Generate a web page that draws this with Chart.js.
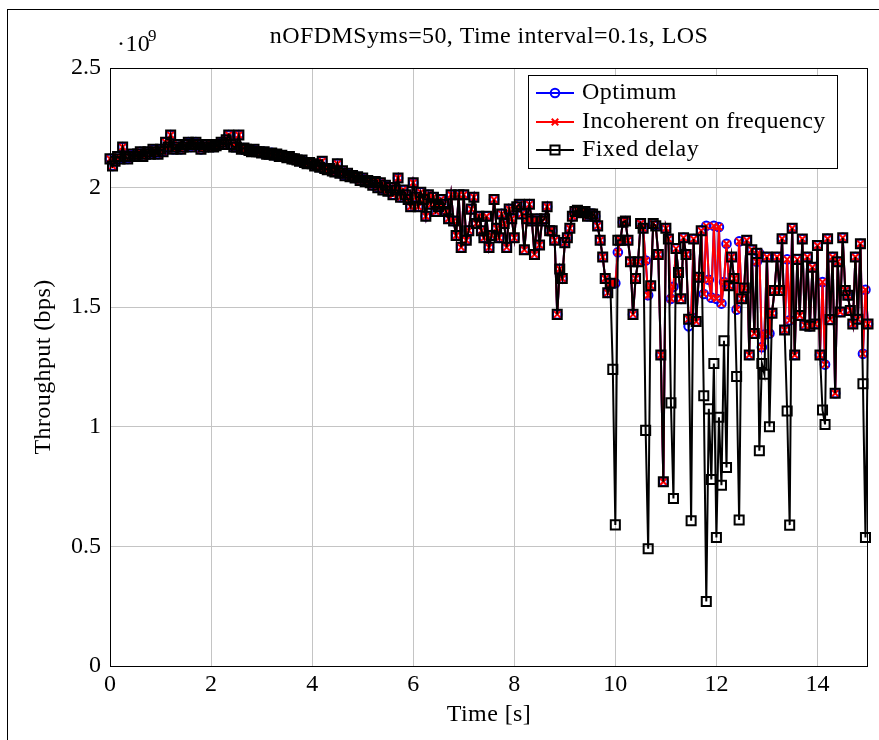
<!DOCTYPE html>
<html>
<head>
<meta charset="utf-8">
<title>Throughput</title>
<script src="https://cdn.jsdelivr.net/npm/chart.js@4.4.0/dist/chart.umd.min.js"></script>
<style>
html, body { margin: 0; padding: 0; background: #fff; }
#wrap { position: relative; width: 879px; height: 740px; overflow: hidden; }
#wrap canvas { position: absolute; left: 0; top: 0; }
#frame { position: absolute; left: 7px; top: 9px; width: 900px; height: 800px; border-left: 1px solid #000; border-top: 1px solid #000; pointer-events: none; }
</style>
</head>
<body>
<div id="wrap">
  <canvas id="throughputChart" width="879" height="740"></canvas>
  <div id="frame"></div>
</div>
<script>
const serif = '"Liberation Serif", "Times New Roman", serif';

// time axis (s)
const times = [
  0,0.05,0.1,0.15,0.2,0.25,0.3,0.35,0.4,0.45,0.5,0.55,0.6,0.65,0.7,0.75,0.8,0.85,0.9,0.95,
  1,1.05,1.1,1.15,1.2,1.25,1.3,1.35,1.4,1.45,1.5,1.55,1.6,1.65,1.7,1.75,1.8,1.85,1.9,1.95,
  2,2.05,2.1,2.15,2.2,2.25,2.3,2.35,2.4,2.45,2.5,2.55,2.6,2.65,2.7,2.75,2.8,2.85,2.9,2.95,
  3,3.05,3.1,3.15,3.2,3.25,3.3,3.35,3.4,3.45,3.5,3.55,3.6,3.65,3.7,3.75,3.8,3.85,3.9,3.95,
  4,4.05,4.1,4.15,4.2,4.25,4.3,4.35,4.4,4.45,4.5,4.55,4.6,4.65,4.7,4.75,4.8,4.85,4.9,4.95,
  5,5.05,5.1,5.15,5.2,5.25,5.3,5.35,5.4,5.45,5.5,5.55,5.6,5.65,5.7,5.75,5.8,5.85,5.9,5.95,
  6,6.05,6.1,6.15,6.2,6.25,6.3,6.35,6.4,6.45,6.5,6.55,6.6,6.65,6.7,6.75,6.8,6.85,6.9,6.95,
  7,7.05,7.1,7.15,7.2,7.25,7.3,7.35,7.4,7.45,7.5,7.55,7.6,7.65,7.7,7.75,7.8,7.85,7.9,7.95,
  8,8.05,8.1,8.15,8.2,8.25,8.3,8.35,8.4,8.45,8.5,8.55,8.6,8.65,8.7,8.75,8.8,8.85,8.9,8.95,
  9,9.05,9.1,9.15,9.2,9.25,9.3,9.35,9.4,9.45,9.5,9.55,9.6,9.65,9.7,9.75,9.8,9.85,9.9,9.95,
  10,10.05,10.1,10.15,10.2,10.25,10.3,10.35,10.4,10.45,10.5,10.55,10.6,10.65,10.7,10.75,10.8,10.85,10.9,10.95,
  11,11.05,11.1,11.15,11.2,11.25,11.3,11.35,11.4,11.45,11.5,11.55,11.6,11.65,11.7,11.75,11.8,11.85,11.9,11.95,
  12,12.05,12.1,12.15,12.2,12.25,12.3,12.35,12.4,12.45,12.5,12.55,12.6,12.65,12.7,12.75,12.8,12.85,12.9,12.95,
  13,13.05,13.1,13.15,13.2,13.25,13.3,13.35,13.4,13.45,13.5,13.55,13.6,13.65,13.7,13.75,13.8,13.85,13.9,13.95,
  14,14.05,14.1,14.15,14.2,14.25,14.3,14.35,14.4,14.45,14.5,14.55,14.6,14.65,14.7,14.75,14.8,14.85,14.9,14.95,
  15
];

// throughput in units of 10^9 bps
const optimum = [
  2.12,2.09,2.11,2.13,2.12,2.17,2.13,2.12,2.13,2.14,2.13,2.14,2.15,2.13,2.14,2.15,2.14,2.16,2.15,2.14,
  2.16,2.15,2.19,2.17,2.22,2.16,2.17,2.18,2.16,2.17,2.18,2.19,2.17,2.18,2.19,2.18,2.16,2.17,2.18,2.17,
  2.18,2.17,2.175,2.18,2.19,2.18,2.20,2.22,2.18,2.17,2.17,2.22,2.16,2.165,2.16,2.155,2.15,2.16,2.15,2.15,
  2.145,2.15,2.14,2.14,2.145,2.135,2.14,2.13,2.135,2.13,2.125,2.13,2.12,2.12,2.115,2.11,2.115,2.105,2.10,2.105,
  2.10,2.09,2.095,2.085,2.11,2.08,2.075,2.08,2.07,2.065,2.10,2.06,2.07,2.05,2.06,2.045,2.05,2.04,2.045,2.03,
  2.04,2.025,2.03,2.02,2.01,2.025,2.00,2.02,1.99,2.01,1.985,2.00,1.97,1.99,2.04,1.96,1.99,1.97,1.95,1.92,
  2.02,1.96,1.92,1.98,1.95,1.88,1.97,1.93,1.96,1.90,1.92,1.95,1.93,1.90,1.87,1.97,1.86,1.80,1.97,1.75,
  1.97,1.78,1.82,1.91,1.96,1.85,1.88,1.82,1.79,1.88,1.75,1.80,1.95,1.83,1.79,1.89,1.85,1.75,1.91,1.87,
  1.79,1.92,1.93,1.89,1.74,1.87,1.93,1.86,1.72,1.87,1.76,1.86,1.87,1.92,1.82,1.82,1.78,1.47,1.66,1.62,
  1.77,1.79,1.83,1.88,1.90,1.905,1.90,1.895,1.90,1.88,1.89,1.89,1.88,1.84,1.78,1.71,1.62,1.56,1.60,1.60,
  1.60,1.73,1.78,1.855,1.86,1.78,1.69,1.47,1.62,1.69,1.85,1.83,1.695,1.55,1.59,1.85,1.84,1.72,1.30,0.77,
  1.83,1.785,1.535,1.585,1.745,1.645,1.535,1.79,1.72,1.42,1.46,1.785,1.44,1.625,1.82,1.555,1.84,1.615,1.54,1.84,
  1.535,1.835,1.515,1.605,1.765,1.59,1.71,1.62,1.49,1.775,1.535,1.58,1.78,1.30,1.74,1.39,1.69,1.725,1.333,1.386,
  1.71,1.39,1.475,1.57,1.71,1.57,1.786,1.405,1.70,1.445,1.83,1.30,1.70,1.465,1.785,1.425,1.71,1.42,1.667,1.43,
  1.758,1.30,1.605,1.26,1.786,1.448,1.71,1.14,1.69,1.48,1.79,1.57,1.55,1.486,1.43,1.71,1.45,1.765,1.305,1.573,
  1.43
];

const incoherent = [
  2.12,2.09,2.11,2.13,2.12,2.17,2.13,2.12,2.13,2.14,2.13,2.14,2.15,2.13,2.14,2.15,2.14,2.16,2.15,2.14,
  2.16,2.15,2.19,2.17,2.22,2.16,2.17,2.18,2.16,2.17,2.18,2.19,2.17,2.18,2.19,2.18,2.16,2.17,2.18,2.17,
  2.18,2.17,2.175,2.18,2.19,2.18,2.20,2.22,2.18,2.17,2.17,2.22,2.16,2.165,2.16,2.155,2.15,2.16,2.15,2.15,
  2.145,2.15,2.14,2.14,2.145,2.135,2.14,2.13,2.135,2.13,2.125,2.13,2.12,2.12,2.115,2.11,2.115,2.105,2.10,2.105,
  2.10,2.09,2.095,2.085,2.11,2.08,2.075,2.08,2.07,2.065,2.10,2.06,2.07,2.05,2.06,2.045,2.05,2.04,2.045,2.03,
  2.04,2.025,2.03,2.02,2.01,2.025,2.00,2.02,1.99,2.01,1.985,2.00,1.97,1.99,2.04,1.96,1.99,1.97,1.95,1.92,
  2.02,1.96,1.92,1.98,1.95,1.88,1.97,1.93,1.96,1.90,1.92,1.95,1.93,1.90,1.87,1.97,1.86,1.80,1.97,1.75,
  1.97,1.78,1.82,1.91,1.96,1.85,1.88,1.82,1.79,1.88,1.75,1.80,1.95,1.83,1.79,1.89,1.85,1.75,1.91,1.87,
  1.79,1.92,1.93,1.89,1.74,1.87,1.93,1.86,1.72,1.87,1.76,1.86,1.87,1.92,1.82,1.82,1.78,1.47,1.66,1.62,
  1.77,1.79,1.83,1.88,1.90,1.905,1.90,1.895,1.90,1.88,1.89,1.89,1.88,1.84,1.78,1.71,1.62,1.56,1.60,1.60,
  1.60,1.73,1.78,1.855,1.86,1.78,1.69,1.47,1.62,1.69,1.85,1.83,1.695,1.55,1.59,1.85,1.84,1.72,1.30,0.77,
  1.83,1.785,1.535,1.585,1.745,1.645,1.535,1.79,1.72,1.45,1.46,1.785,1.44,1.625,1.82,1.555,1.84,1.615,1.54,1.84,
  1.535,1.835,1.515,1.605,1.765,1.59,1.71,1.62,1.49,1.775,1.535,1.58,1.78,1.30,1.74,1.39,1.69,1.725,1.333,1.386,
  1.71,1.39,1.475,1.57,1.71,1.57,1.786,1.405,1.70,1.445,1.83,1.30,1.70,1.465,1.785,1.425,1.71,1.42,1.667,1.43,
  1.758,1.30,1.605,1.26,1.786,1.448,1.71,1.14,1.69,1.48,1.79,1.57,1.55,1.486,1.43,1.71,1.45,1.765,1.305,1.573,
  1.43
];

const fixedDelay = [
  2.12,2.09,2.11,2.13,2.12,2.17,2.13,2.12,2.13,2.14,2.13,2.14,2.15,2.13,2.14,2.15,2.14,2.16,2.15,2.14,
  2.16,2.15,2.19,2.17,2.22,2.16,2.17,2.18,2.16,2.17,2.18,2.19,2.17,2.18,2.19,2.18,2.16,2.17,2.18,2.17,
  2.18,2.17,2.175,2.18,2.19,2.18,2.20,2.22,2.18,2.17,2.17,2.22,2.16,2.165,2.16,2.155,2.15,2.16,2.15,2.15,
  2.145,2.15,2.14,2.14,2.145,2.135,2.14,2.13,2.135,2.13,2.125,2.13,2.12,2.12,2.115,2.11,2.115,2.105,2.10,2.105,
  2.10,2.09,2.095,2.085,2.11,2.08,2.075,2.08,2.07,2.065,2.10,2.06,2.07,2.05,2.06,2.045,2.05,2.04,2.045,2.03,
  2.04,2.025,2.03,2.02,2.01,2.025,2.00,2.02,1.99,2.01,1.985,2.00,1.97,1.99,2.04,1.96,1.99,1.97,1.95,1.92,
  2.02,1.96,1.92,1.98,1.95,1.88,1.97,1.93,1.96,1.90,1.92,1.95,1.93,1.90,1.87,1.97,1.86,1.80,1.97,1.75,
  1.97,1.78,1.82,1.91,1.96,1.85,1.88,1.82,1.79,1.88,1.75,1.80,1.95,1.83,1.79,1.89,1.85,1.75,1.91,1.87,
  1.79,1.92,1.93,1.89,1.74,1.87,1.93,1.86,1.72,1.87,1.76,1.86,1.87,1.92,1.82,1.82,1.78,1.47,1.66,1.62,
  1.77,1.79,1.83,1.88,1.90,1.905,1.90,1.895,1.90,1.88,1.89,1.89,1.88,1.84,1.78,1.71,1.62,1.56,1.60,1.24,
  0.59,1.78,1.78,1.855,1.86,1.78,1.69,1.47,1.62,1.69,1.85,1.83,0.985,0.49,1.59,1.85,1.84,1.72,1.30,0.77,
  1.83,1.785,1.10,0.70,1.745,1.645,1.535,1.79,1.72,1.45,0.607,1.785,1.44,1.625,1.82,1.13,0.27,1.075,0.78,1.265,
  0.537,1.04,0.756,1.36,0.83,1.59,1.71,1.62,1.21,0.61,1.535,1.58,1.78,1.30,1.74,1.39,1.725,0.90,1.265,1.22,
  1.71,1.0,1.475,1.57,1.71,1.57,1.786,1.405,1.066,0.589,1.83,1.30,1.70,1.465,1.785,1.425,1.71,1.42,1.667,1.43,
  1.758,1.30,1.07,1.01,1.786,1.448,1.71,1.14,1.69,1.48,1.79,1.57,1.55,1.486,1.43,1.71,1.45,1.765,1.18,0.537,
  1.43
];

const xTicks = [0, 2, 4, 6, 8, 10, 12, 14];
const yTicks = [0, 0.5, 1, 1.5, 2, 2.5];

const titleText = 'nOFDMSyms=50, Time interval=0.1s, LOS';
const xLabel = 'Time [s]';
const yLabel = 'Throughput (bps)';

// Helper: text with a bit of letter spacing to get closer to the LaTeX widths
function drawText(ctx, text, x, y, size, align) {
    ctx.font = size + 'px ' + serif;
    ctx.letterSpacing = '0.4px';
    ctx.textAlign = align || 'center';
    ctx.textBaseline = 'middle';
    ctx.fillStyle = '#000';
    ctx.fillText(text, x, y);
}

// Draws white background, axis box, titles and the legend box
const decorPlugin = {
    id: 'decor',
    beforeDraw(chart) {
        const ctx = chart.ctx;
        ctx.save();
        ctx.fillStyle = '#fff';
        ctx.fillRect(0, 0, chart.width, chart.height);
        ctx.restore();
    },
    afterDraw(chart) {
        const ctx = chart.ctx;
        const a = chart.chartArea;
        ctx.save();

        // axis box
        ctx.strokeStyle = '#000';
        ctx.lineWidth = 1;
        ctx.strokeRect(a.left + 0.5, a.top + 0.5, a.right - a.left - 1, a.bottom - a.top);

        // titles
        drawText(ctx, titleText, (a.left + a.right) / 2, 37, 24);
        drawText(ctx, xLabel, (a.left + a.right) / 2, 715, 24);
        ctx.save();
        ctx.translate(44, (a.top + a.bottom) / 2);
        ctx.rotate(-Math.PI / 2);
        drawText(ctx, yLabel, 0, 0, 24);
        ctx.restore();

        // exponent  ·10^9
        drawText(ctx, '\u00b710', 117, 45, 24, 'left');
        drawText(ctx, '9', 148, 37, 17, 'left');

        // legend
        const lx = 528, ly = 75, lw = 309, lh = 93;
        ctx.fillStyle = '#fff';
        ctx.fillRect(lx, ly, lw, lh);
        ctx.strokeStyle = '#000';
        ctx.lineWidth = 1;
        ctx.strokeRect(lx + 0.5, ly + 0.5, lw, lh);

        const rows = [93, 122, 150];
        const order = [0, 1, 2];
        order.forEach((di, k) => {
            const ds = chart.data.datasets[di];
            const y = rows[k];
            ctx.strokeStyle = ds.borderColor;
            ctx.lineWidth = ds.borderWidth;
            ctx.beginPath();
            ctx.moveTo(536, y);
            ctx.lineTo(574, y);
            ctx.stroke();
            ctx.fillStyle = 'rgba(0,0,0,0)';
            ctx.strokeStyle = ds.pointBorderColor;
            ctx.lineWidth = ds.pointBorderWidth;
            Chart.helpers.drawPoint(ctx, {
                pointStyle: ds.pointStyle,
                radius: ds.pointRadius,
                rotation: 0,
                borderWidth: ds.pointBorderWidth
            }, 555, y);
            drawText(ctx, ds.label, 582, y, 24, 'left');
        });

        ctx.restore();
    }
};

const ctx = document.getElementById('throughputChart').getContext('2d');

const throughputChart = new Chart(ctx, {
    type: 'line',
    data: {
        labels: times,
        datasets: [{
            label: 'Optimum',
            data: optimum,
            borderColor: '#0000ff',
            borderWidth: 2,
            pointStyle: 'circle',
            pointRadius: 4.3,
            pointBorderColor: '#0000ff',
            pointBorderWidth: 2,
            pointBackgroundColor: 'rgba(0,0,0,0)',
            tension: 0,
            fill: false,
            clip: 10,
            order: 3
        }, {
            label: 'Incoherent on frequency',
            data: incoherent,
            borderColor: '#ff0000',
            borderWidth: 2,
            pointStyle: 'crossRot',
            pointRadius: 4.6,
            pointBorderColor: '#ff0000',
            pointBorderWidth: 2,
            pointBackgroundColor: 'rgba(0,0,0,0)',
            tension: 0,
            fill: false,
            clip: 10,
            order: 2
        }, {
            label: 'Fixed delay',
            data: fixedDelay,
            borderColor: '#000000',
            borderWidth: 2,
            pointStyle: 'rect',
            pointRadius: 6.4,
            pointBorderColor: '#000000',
            pointBorderWidth: 2,
            pointBackgroundColor: 'rgba(0,0,0,0)',
            tension: 0,
            fill: false,
            clip: 10,
            order: 1
        }]
    },
    options: {
        responsive: false,
        animation: false,
        events: [],
        devicePixelRatio: 1,
        layout: {
            padding: { top: 68, right: 11, left: 0, bottom: 0 }
        },
        scales: {
            x: {
                type: 'linear',
                min: 0,
                max: 15,
                afterBuildTicks: scale => { scale.ticks = xTicks.map(v => ({ value: v })); },
                afterFit: scale => { scale.height = 74; },
                grid: { color: '#c4c4c4', lineWidth: 1, drawTicks: false },
                border: { display: false },
                ticks: {
                    autoSkip: false,
                    maxRotation: 0,
                    padding: 4,
                    color: '#000',
                    font: { family: serif, size: 24 },
                    callback: v => String(v)
                }
            },
            y: {
                min: 0,
                max: 2.5,
                afterBuildTicks: scale => { scale.ticks = yTicks.map(v => ({ value: v })); },
                afterFit: scale => { scale.width = 110; },
                grid: { color: '#c4c4c4', lineWidth: 1, drawTicks: false },
                border: { display: false },
                ticks: {
                    autoSkip: false,
                    padding: 9,
                    color: '#000',
                    font: { family: serif, size: 24 },
                    callback: v => String(v)
                }
            }
        },
        plugins: {
            legend: { display: false },
            tooltip: { enabled: false },
            title: { display: false }
        }
    },
    plugins: [decorPlugin]
});
</script>
</body>
</html>
